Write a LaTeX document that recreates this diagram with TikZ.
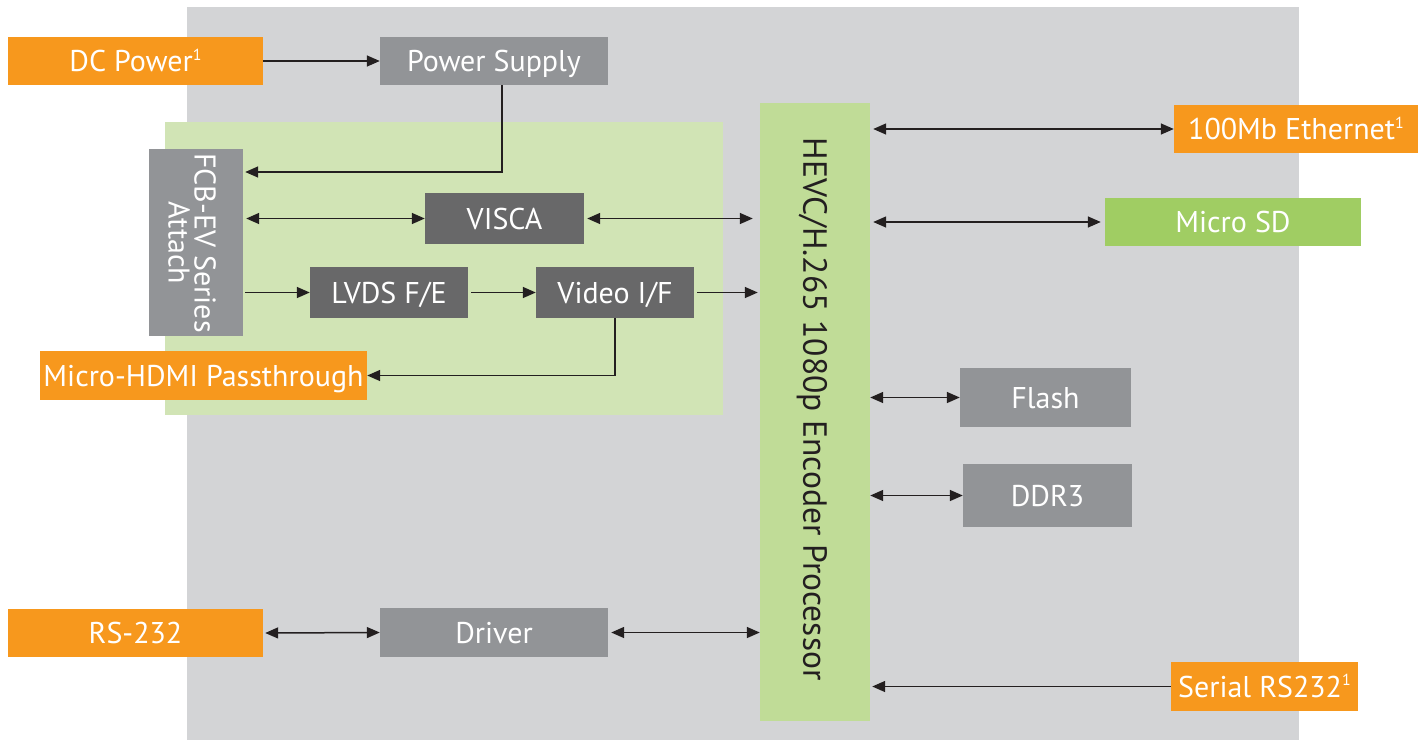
\documentclass[tikz,border=0pt]{standalone}
\usepackage{fontspec}
\setmainfont{PT Sans}
\usetikzlibrary{arrows.meta,calc}
\definecolor{bggray}{HTML}{D3D4D6}
\definecolor{lgreen}{HTML}{D1E4B5}
\definecolor{pgreen}{HTML}{C0DC97}
\definecolor{sdgreen}{HTML}{A0CD63}
\definecolor{orng}{HTML}{F7981D}
\definecolor{mgray}{HTML}{929497}
\definecolor{dgray}{HTML}{686869}
\definecolor{ink}{HTML}{231F20}
\tikzset{
  blk/.style={inner sep=0pt, text=white, font=\fontsize{30}{30}\selectfont, anchor=center, text height=21pt, text depth=0pt},
  ext/.style={blk, fill=orng},
  mid/.style={blk, fill=mgray},
  drk/.style={blk, fill=dgray},
  conn/.style={draw=ink, line width=1.5pt},
  one/.style={conn, -{Triangle[length=13pt,width=11pt]}},
  two/.style={conn, {Triangle[length=13pt,width=11pt]}-{Triangle[length=13pt,width=11pt]}},
}
\newcommand{\supone}{\raisebox{0.38em}{\fontsize{16}{16}\selectfont 1}}
\begin{document}
\begin{tikzpicture}[x=1pt,y=-1pt]
\useasboundingbox (0,0) rectangle (1422,740);
\fill[bggray] (187,7) rectangle (1299,740);
\fill[lgreen] (165,122) rectangle (723,415);

\node[ext, minimum width=255pt, minimum height=48pt] (dc) at (135.5,61) {DC Power\supone};
\node[mid, minimum width=228pt, minimum height=48pt] (ps) at (494,61) {Power Supply};
\node[mid, minimum width=94pt, minimum height=187pt] (fcb) at (196,242.5) {};
\node[rotate=-90, align=center, inner sep=0pt, text=white, font=\fontsize{30}{26}\selectfont] (fcbt) at (192,243) {FCB-EV Series\\Attach};
\node[drk, minimum width=159pt, minimum height=51pt] (visca) at (504.5,218.5) {VISCA};
\node[drk, minimum width=158pt, minimum height=51pt] (lvds) at (389,292.5) {LVDS F/E};
\node[drk, minimum width=158pt, minimum height=51pt] (video) at (615,292.5) {Video I/F};
\node[ext, minimum width=327pt, minimum height=49pt] (hdmi) at (203.5,375.5) {Micro-HDMI Passthrough};
\node[blk, fill=pgreen, minimum width=110pt, minimum height=618pt] (proc) at (815,412) {};
\node[blk, text=ink, rotate=-90, font=\fontsize{33.5}{34}\selectfont, text height=23.5pt] (proct) at (815,409) {HEVC/H.265 1080p Encoder Processor};
\node[ext, minimum width=244pt, minimum height=48pt] (eth) at (1296,129) {100Mb Ethernet\supone};
\node[blk, fill=sdgreen, minimum width=256pt, minimum height=48pt] (sd) at (1233,222) {Micro SD};
\node[mid, minimum width=171pt, minimum height=59pt] (flash) at (1045.5,397.5) {Flash};
\node[mid, minimum width=169pt, minimum height=63pt] (ddr) at (1047.5,495.5) {DDR3};
\node[ext, minimum width=255pt, minimum height=48pt] (rs) at (135.5,633) {RS-232};
\node[mid, minimum width=228pt, minimum height=49pt] (drv) at (494,632.5) {Driver};
\node[ext, minimum width=187pt, minimum height=49pt] (ser) at (1264.5,686.5) {Serial RS232\supone};

\coordinate (pwr) at (502,172);
\draw[one] (dc.east) -- (ps.west);
\draw[one] (ps.south -| pwr) -- (pwr) -- ([xshift=2pt]fcb.east |- pwr);
\draw[two, shorten <=3pt] (fcb.east |- visca.west) -- (visca.west);
\draw[two, shorten <=3pt, shorten >=7pt] (visca.east) -- (proc.west |- visca.east);
\draw[one, shorten <=2pt] (fcb.east |- lvds.west) -- (lvds.west);
\draw[one, shorten <=3pt] (lvds.east) -- (video.west);
\draw[one, shorten <=3pt, shorten >=2pt] (video.east) -- (proc.west |- video.east);
\draw[one] (video.south) |- (hdmi.east);
\draw[two, shorten <=3pt] (proc.east |- eth.west) -- (eth.west);
\draw[two, shorten <=3pt, shorten >=4pt] (proc.east |- sd.west) -- (sd.west);
\draw[two] (proc.east |- flash.west) -- (flash.west);
\draw[two] (proc.east |- ddr.west) -- (ddr.west);
\draw[two, shorten <=2pt] (rs.east) -- (drv.west);
\draw[two, shorten <=3pt] (drv.east) -- (proc.west |- drv.east);
\draw[one, shorten >=2pt] (ser.west) -- (proc.east |- ser.west);
\end{tikzpicture}
\end{document}
